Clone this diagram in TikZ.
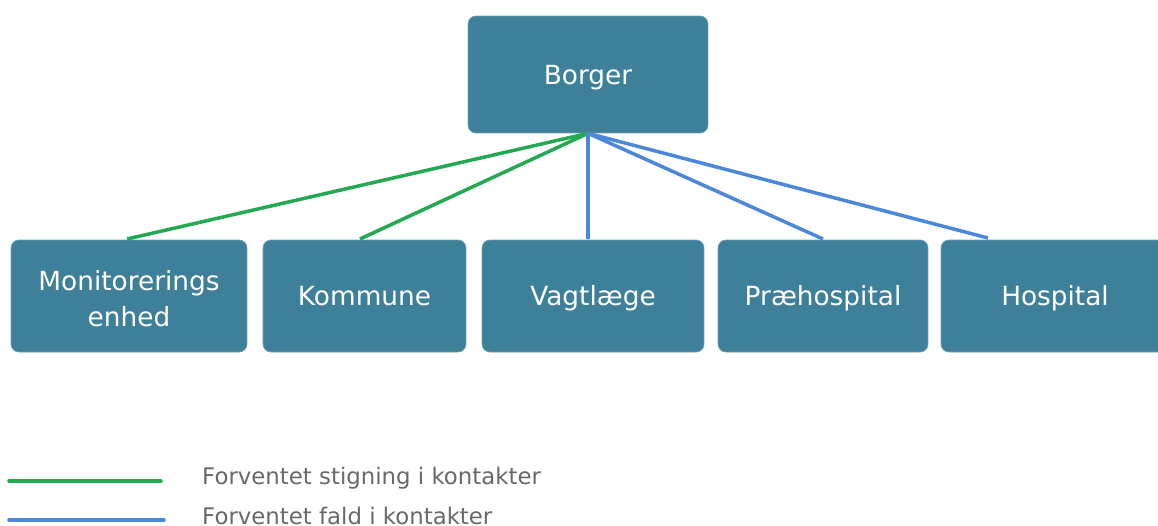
\documentclass[tikz,border=0pt]{standalone}
\usepackage{fontspec}
\setmainfont{DejaVu Sans}

\definecolor{boxteal}{RGB}{62,128,153}
\definecolor{upgreen}{RGB}{36,168,82}
\definecolor{downblue}{RGB}{76,136,216}
\definecolor{legendgray}{RGB}{105,105,105}

\begin{document}
\begin{tikzpicture}[x=0.02cm,y=-0.02cm,
		unit/.style={fill=boxteal, draw=boxteal!75!white, rounded corners=4.5pt, text=white, align=center, inner sep=0pt, minimum height=2.24cm, font=\fontsize{15}{20.4}\selectfont},
		oneline/.style={text height=10.9pt, text depth=0pt},
		up/.style={upgreen, line width=2pt},
		down/.style={downblue, line width=2pt},
		legendtext/.style={anchor=base west, text=legendgray, font=\fontsize{13}{15}\selectfont}]
		\useasboundingbox (0,0) rectangle (1158,525);
		% top box
		\node[unit, oneline, minimum width=4.8cm, minimum height=2.34cm] (borger) at (588,74.5) {Borger};
		% lower row
		\node[unit, minimum width=4.72cm] (monitor) at (129,296) {};
		\node[align=center, text=white, inner sep=0pt, font=\fontsize{15}{20.4}\selectfont] (monitortext) at (129,299) {Monitorerings\\enhed};
		\node[unit, oneline, minimum width=4.06cm] (kommune) at (364.5,296) {Kommune};
		\node[unit, oneline, minimum width=4.44cm] (vagt) at (593,296) {Vagtlæge};
		\node[unit, oneline, minimum width=4.2cm] (praehosp) at (823,296) {Præhospital};
		\node[unit, oneline, minimum width=4.56cm] (hosp) at (1055,296) {Hospital};
		% line ends on the boxes
		\coordinate (monitor-in) at (127,239);
		\coordinate (kommune-in) at (360,239);
		\coordinate (vagt-in) at (588,239);
		\coordinate (praehosp-in) at (823,239);
		\coordinate (hosp-in) at (988,238);
		\draw[up] (borger.south) -- (monitor-in);
		\draw[up] (borger.south) -- (kommune-in);
		\draw[down] (borger.south) -- (vagt-in);
		\draw[down] (borger.south) -- (praehosp-in);
		\draw[down] (borger.south) -- (hosp-in);
		% legend
		\coordinate (upA) at (9,481);
		\coordinate (upB) at (161,481);
		\coordinate (downA) at (9,520);
		\coordinate (downB) at (164,520);
		\draw[up, line cap=round] (upA) -- (upB);
		\draw[down, line cap=round] (downA) -- (downB);
		\node[legendtext] (legup) at (196,484) {Forventet stigning i kontakter};
		\node[legendtext] (legdown) at (196,524) {Forventet fald i kontakter};
\end{tikzpicture}
\end{document}
